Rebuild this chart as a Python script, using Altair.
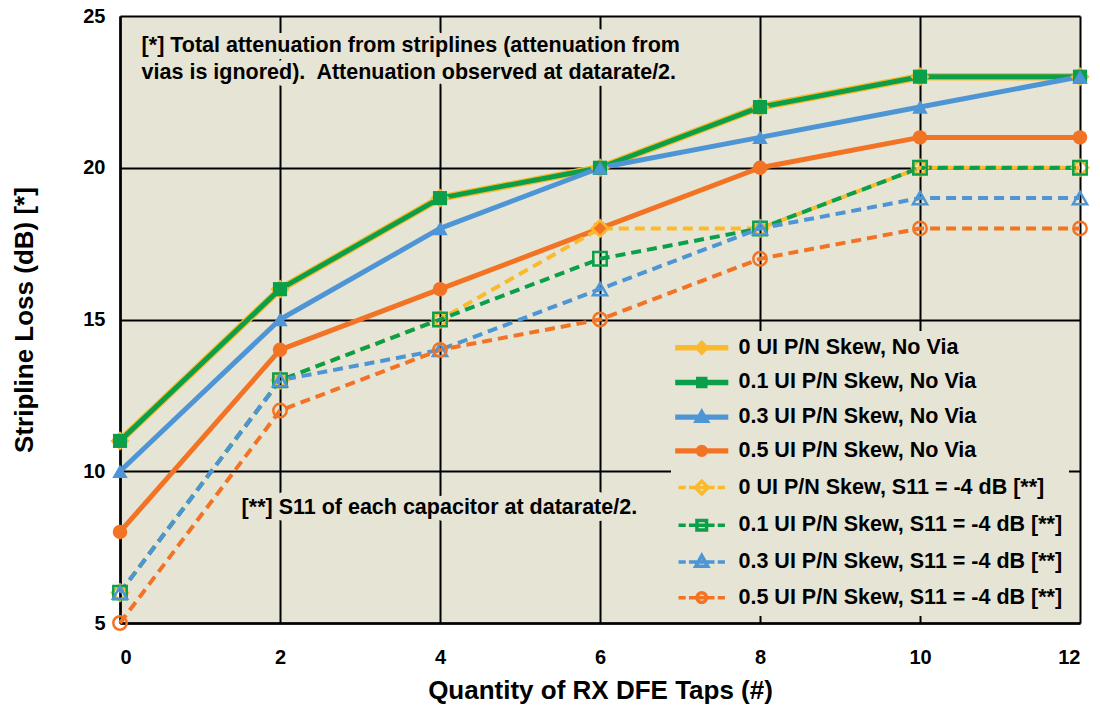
import altair as alt
import pandas as pd

# ---------------- data ----------------
taps = [0, 2, 4, 6, 8, 10, 12]
series_names = [
    "0 UI P/N Skew, No Via",
    "0.1 UI P/N Skew, No Via",
    "0.3 UI P/N Skew, No Via",
    "0.5 UI P/N Skew, No Via",
    "0 UI P/N Skew, S11 = -4 dB [**]",
    "0.1 UI P/N Skew, S11 = -4 dB [**]",
    "0.3 UI P/N Skew, S11 = -4 dB [**]",
    "0.5 UI P/N Skew, S11 = -4 dB [**]",
]
loss_0_novia = [11, 16, 19, 20, 22, 23, 23]
loss_01_novia = [11, 16, 19, 20, 22, 23, 23]
loss_03_novia = [10, 15, 18, 20, 21, 22, 23]
loss_05_novia = [8, 14, 16, 18, 20, 21, 21]
loss_0_s11 = [6, 13, 15, 18, 18, 20, 20]
loss_01_s11 = [6, 13, 15, 17, 18, 20, 20]
loss_03_s11 = [6, 13, 14, 16, 18, 19, 19]
loss_05_s11 = [5, 12, 14, 15, 17, 18, 18]
all_losses = [loss_0_novia, loss_01_novia, loss_03_novia, loss_05_novia,
              loss_0_s11, loss_01_s11, loss_03_s11, loss_05_s11]

y_ticks = [5, 10, 15, 20, 25]
x_title = "Quantity of RX DFE Taps (#)"
y_title = "Stripline Loss (dB) [*]"
note1_lines = ["[*] Total attenuation from striplines (attenuation from",
               "vias is ignored).\u00a0 Attenuation observed at datarate/2."]
note1_x = [0.27, 0.27]
note1_y = [24.02, 23.12]
note2_lines = ["[**] S11 of each capacitor at datarate/2."]
note2_x = [1.52]
note2_y = [8.79]

# ---------------- styles ----------------
BG = "#E6E4D5"
GOLD = "#FBB92D"
GREEN = "#0C9F4A"
BLUE = "#4E95D5"
ORANGE = "#F37325"
colors = [GOLD, GREEN, BLUE, ORANGE, GOLD, GREEN, BLUE, ORANGE]
shapes = ["diamond", "square", "triangle-up", "circle"] * 2
filled = [True] * 4 + [False] * 4
sizes = [370, 200, 240, 210, 260, 180, 200, 180]
line_w = [7.5, 5, 5, 5, 4, 4, 4, 4]
FONT = "Liberation Sans, Arial, sans-serif"
NARROW = "Liberation Sans Narrow, Arial Narrow, Liberation Sans, sans-serif"

# legend symbol paths (line + marker)
def circ(r):
    return f"M{-r},0A{r},{r} 0 1,0 {r},0A{r},{r} 0 1,0 {-r},0Z"

solid = "M-3.1,-0.12L3.1,-0.12L3.1,0.12L-3.1,0.12Z"
dashed = "M-2.9,0L-2.0,0M-1.6,0L1.6,0M2.0,0L2.9,0"
legend_paths = [
    solid + "M0,-0.65L0.65,0L0,0.65L-0.65,0Z",
    solid + "M-0.5,-0.5L0.5,-0.5L0.5,0.5L-0.5,0.5Z",
    solid + "M0,-0.7L0.7,0.5L-0.7,0.5Z",
    solid + circ(0.55),
    dashed + "M0,-0.8L0.8,0L0,0.8L-0.8,0Z",
    dashed + "M-0.6,-0.6L0.6,-0.6L0.6,0.6L-0.6,0.6Z",
    dashed + "M0,-0.8L0.75,0.55L-0.75,0.55Z",
    dashed + circ(0.6),
]
legend_fills = colors[:4] + ["transparent"] * 4

rows = []
for name, vals in zip(series_names, all_losses):
    for t, v in zip(taps, vals):
        rows.append({"series": name, "taps": t, "loss": v})
df = pd.DataFrame(rows)

x_enc = alt.X("taps:Q", scale=alt.Scale(domain=[0, 12], nice=False, zero=False),
              axis=alt.Axis(values=taps, title=x_title, grid=True, format="d",
                            labelPadding=24, titleY=67, titleBaseline="middle"))
y_enc = alt.Y("loss:Q", scale=alt.Scale(domain=[5, 25], nice=False, zero=False),
              axis=alt.Axis(values=y_ticks, title=y_title, grid=True, format="d",
                            labelPadding=15, titleX=-96, titleBaseline="middle"))

layers = []
for i, name in enumerate(series_names):
    sub = alt.Chart(df).transform_filter(alt.datum.series == name)
    line_kwargs = dict(color=colors[i], strokeWidth=line_w[i], strokeJoin="round")
    if i >= 4:
        line_kwargs["strokeDash"] = [10, 6]
    layers.append(sub.mark_line(**line_kwargs).encode(x=x_enc, y=y_enc))
for i, name in enumerate(series_names):
    sub = alt.Chart(df).transform_filter(alt.datum.series == name)
    if filled[i]:
        pt = sub.mark_point(shape=shapes[i], size=sizes[i], filled=True,
                            color=colors[i], opacity=1)
    else:
        pt = sub.mark_point(shape=shapes[i], size=sizes[i], filled=False,
                            stroke=colors[i], strokeWidth=2.5, opacity=1)
    layers.append(pt.encode(x=x_enc, y=y_enc))

leg = alt.Legend(orient="none", legendX=551, legendY=315, title=None,
                 direction="vertical", fillColor=BG, padding=6,
                 labelFont=FONT, labelFontWeight="bold", labelFontSize=21.5,
                 labelColor="black", labelLimit=600,
                 symbolSize=256, symbolStrokeWidth=3.5, symbolOffset=14,
                 labelOffset=26, rowPadding=10.7)
legend_layer = alt.Chart(df).transform_filter("false").mark_point(
    filled=False, opacity=1).encode(
    x=x_enc, y=y_enc,
    stroke=alt.Stroke("series:N", scale=alt.Scale(domain=series_names, range=colors), legend=leg),
    fill=alt.Fill("series:N", scale=alt.Scale(domain=series_names, range=legend_fills), legend=leg),
    shape=alt.Shape("series:N", scale=alt.Scale(domain=series_names, range=legend_paths), legend=leg),
)

n1 = pd.DataFrame({"taps": note1_x, "loss": note1_y, "text": note1_lines})
n2 = pd.DataFrame({"taps": note2_x, "loss": note2_y, "text": note2_lines})

def note_layers(d, font, size):
    base = alt.Chart(d)
    halo = base.mark_text(font=font, fontSize=size, fontWeight="bold", align="left",
                          baseline="middle", stroke=BG, strokeWidth=14,
                          strokeJoin="round", fill=BG).encode(x=x_enc, y=y_enc, text="text:N")
    txt = base.mark_text(font=font, fontSize=size, fontWeight="bold", align="left",
                         baseline="middle", color="black").encode(x=x_enc, y=y_enc, text="text:N")
    return [halo, txt]

notes = note_layers(n1, NARROW, 21.5) + note_layers(n2, FONT, 21.5)

chart = alt.layer(*(notes + layers + [legend_layer])).properties(
    width=960, height=607,
    autosize=alt.AutoSizeParams(type="none"),
    padding={"left": 120, "top": 16, "right": 20, "bottom": 86},
    background="white",
).configure_view(fill=BG, stroke=None).configure_axis(
    gridColor="black", gridWidth=2, gridOpacity=1,
    domainColor="black", domainWidth=2.5, ticks=False,
    labelFont=FONT, labelFontWeight="bold", labelFontSize=20, labelColor="black",
    titleFont=FONT, titleFontWeight="bold", titleFontSize=26, titleColor="black",
)

chart.save("out.html", embed_options={"renderer": "svg", "actions": False})
